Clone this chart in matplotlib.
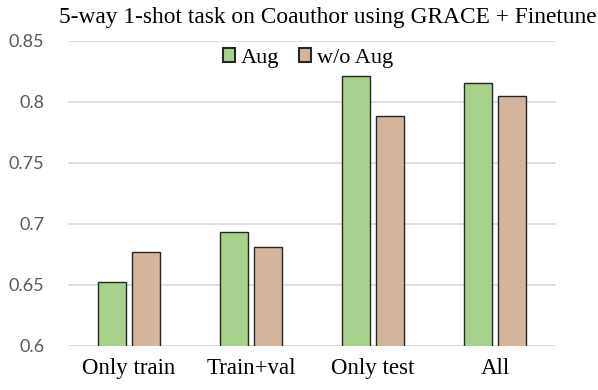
import numpy as np
import matplotlib
matplotlib.use('Agg')
import matplotlib.pyplot as plt

categories = ['Only train', 'Train+val', 'Only test', 'All']
aug = [0.652, 0.693, 0.821, 0.815]
wo_aug = [0.677, 0.681, 0.788, 0.805]
yticks = [0.6, 0.65, 0.7, 0.75, 0.8, 0.85]
ytick_labels = ['0.6', '0.65', '0.7', '0.75', '0.8', '0.85']

serif = 'Liberation Serif'

fig = plt.figure(figsize=(5.98, 3.90), dpi=100)
ax = fig.add_axes([68/598, 1-345.7/390, 488/598, 305/390])

x = np.arange(len(categories))
w = 0.23
ax.bar(x - 0.142, aug, w, color='#A9D18E', edgecolor='#262626', linewidth=1.0,
       label='Aug', zorder=3)
ax.bar(x + 0.142, wo_aug, w, color='#D2B59C', edgecolor='#262626', linewidth=1.0,
       label='w/o Aug', zorder=3)

ax.set_xlim(-0.5, len(categories) - 0.5)
ax.set_ylim(0.6, 0.85)
ax.set_yticks(yticks)
ax.set_yticklabels(ytick_labels, family='Lato', fontsize=13, color='#595959')
ax.set_xticks(x)
ax.set_xticklabels(categories, family=serif, fontsize=16.5, color='black')
ax.tick_params(length=0)
ax.tick_params(axis='y', pad=17)
ax.tick_params(axis='x', pad=9)
ax.grid(axis='y', color='#D9D9D9', linewidth=1.2, zorder=0)
for s in ax.spines.values():
    s.set_visible(False)

fig.text(328/598, 1-17/390, '5-way 1-shot task on Coauthor using GRACE + Finetune',
         family=serif, fontsize=16.8, ha='center', va='center')

leg = fig.legend(loc='center', bbox_to_anchor=(308/598, 1-58/390), ncol=2, frameon=False,
                 prop={'family': serif, 'size': 16}, handlelength=0.55, handleheight=0.55,
                 handletextpad=0.25, columnspacing=0.9, borderpad=0)
for h in leg.legend_handles:
    h.set_linewidth(1.5)

fig.savefig('out.png', dpi=100)
